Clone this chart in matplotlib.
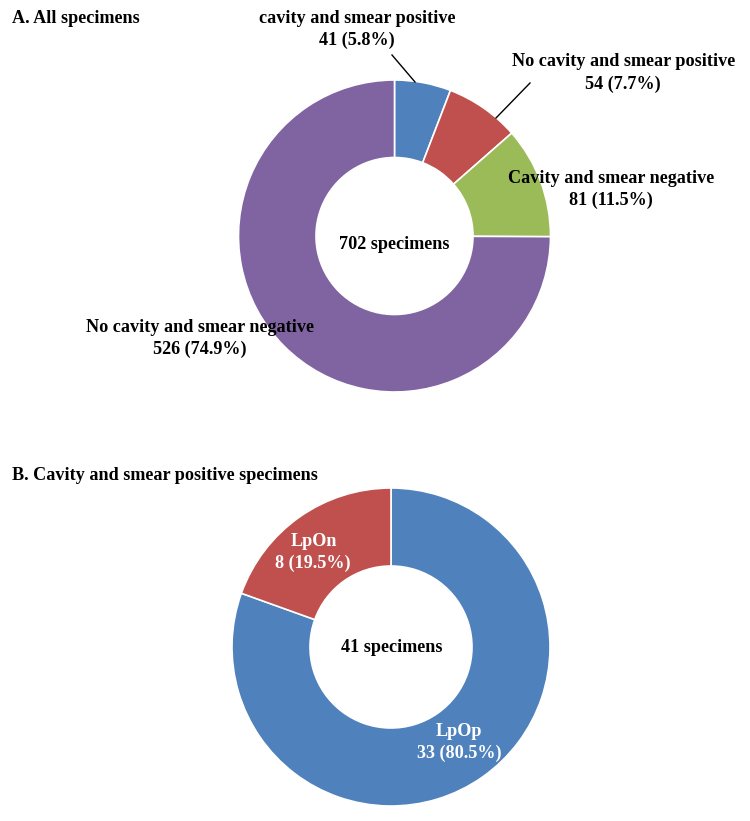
import matplotlib
matplotlib.use("Agg")
import matplotlib.pyplot as plt

plt.rcParams['font.family'] = ['Liberation Serif', 'DejaVu Serif']

# Data
a_labels = ["cavity and smear positive", "No cavity and smear positive",
            "Cavity and smear negative", "No cavity and smear negative"]
a_values = [41, 54, 81, 526]
a_pcts = ["5.8%", "7.7%", "11.5%", "74.9%"]
a_colors = ["#4F81BD", "#C0504D", "#9BBB59", "#8064A2"]

b_labels = ["LpOp", "LpOn"]
b_values = [33, 8]
b_pcts = ["80.5%", "19.5%"]
b_colors = ["#4F81BD", "#C0504D"]

W, H = 750, 821
fig = plt.figure(figsize=(7.5, 8.21), dpi=100)
ax = fig.add_axes([0, 0, 1, 1])

def Y(y):
    return H - y

fs = 13.1

ax.pie(a_values, colors=a_colors, startangle=90, counterclock=False,
       center=(394.5, Y(236)), radius=156, frame=True,
       wedgeprops=dict(width=77.5, edgecolor='white', linewidth=1.2))
ax.pie(b_values, colors=b_colors, startangle=90, counterclock=False,
       center=(391, Y(647)), radius=159, frame=True,
       wedgeprops=dict(width=78, edgecolor='white', linewidth=1.2))

ax.set_xlim(0, W)
ax.set_ylim(0, H)
ax.set_aspect('equal')
ax.axis('off')

kw = dict(fontsize=fs, fontweight='bold', ha='center', va='center')

ax.text(12, Y(18), "A. All specimens", fontsize=fs, fontweight='bold', ha='left', va='center')
ax.text(12, Y(475), "B. Cavity and smear positive specimens", fontsize=fs, fontweight='bold', ha='left', va='center')

# Chart A labels
ax.text(357, Y(18), a_labels[0], **kw)
ax.text(357, Y(40), f"{a_values[0]} ({a_pcts[0]})", **kw)
ax.plot([392, 415], [Y(55), Y(82)], color='black', lw=1)

ax.text(624, Y(61), a_labels[1], **kw)
ax.text(623, Y(84), f"{a_values[1]} ({a_pcts[1]})", **kw)
ax.plot([530, 496], [Y(83), Y(118)], color='black', lw=1)

ax.text(611, Y(178), a_labels[2], **kw)
ax.text(611, Y(200), f"{a_values[2]} ({a_pcts[2]})", **kw)

ax.text(200, Y(327), a_labels[3], **kw)
ax.text(200, Y(349), f"{a_values[3]} ({a_pcts[3]})", **kw)

ax.text(394.5, Y(244), f"{sum(a_values)} specimens", **kw)

# Chart B labels
ax.text(314, Y(541), b_labels[1], color='white', **kw)
ax.text(313, Y(563), f"{b_values[1]} ({b_pcts[1]})", color='white', **kw)
ax.text(459, Y(732), b_labels[0], color='white', **kw)
ax.text(459, Y(753), f"{b_values[0]} ({b_pcts[0]})", color='white', **kw)
ax.text(392, Y(648), f"{sum(b_values)} specimens", **kw)

fig.savefig("out.png", dpi=100)
